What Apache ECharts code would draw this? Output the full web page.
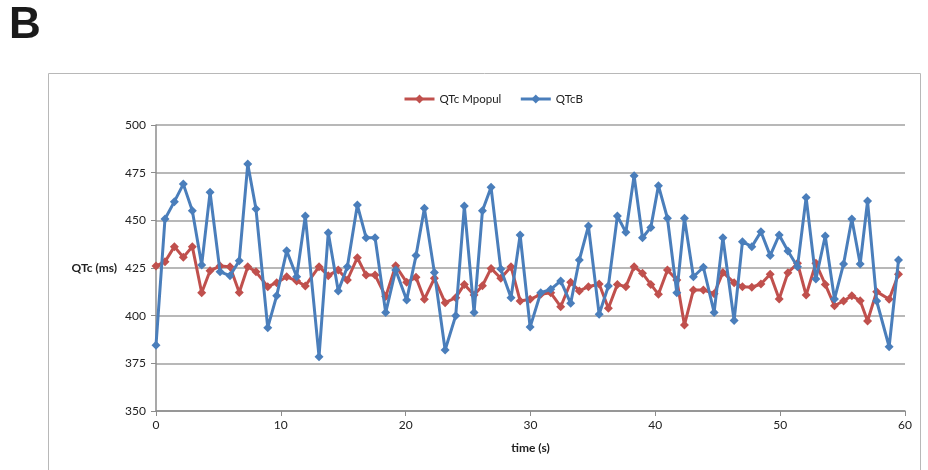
<!DOCTYPE html>
<html>
<head>
<meta charset="utf-8">
<script src="https://cdn.jsdelivr.net/npm/echarts@6/dist/echarts.min.js"></script>
<style>
    html, body { margin: 0; padding: 0; background: #fff; }
    #chart { width: 928px; height: 470px; }
</style>
</head>
<body>
<div id="chart"></div>
<script>
    // beat times (s)
    var times = [
        0, 0.72, 1.47, 2.19, 2.91, 3.66, 4.33, 5.13, 5.93, 6.67,
        7.35, 8.01, 8.95, 9.67, 10.47, 11.27, 11.96, 13.06, 13.8, 14.6,
        15.33, 16.13, 16.83, 17.55, 18.4, 19.2, 20.08, 20.83, 21.5, 22.3,
        23.16, 24.01, 24.7, 25.48, 26.15, 26.84, 27.62, 28.44, 29.17, 29.97,
        30.82, 31.62, 32.42, 33.22, 33.91, 34.64, 35.5, 36.24, 36.96, 37.64,
        38.3, 38.97, 39.64, 40.25, 40.97, 41.72, 42.33, 43.05, 43.85, 44.71,
        45.41, 46.31, 46.98, 47.73, 48.46, 49.2, 49.92, 50.62, 51.39, 52.08,
        52.86, 53.61, 54.35, 55.08, 55.74, 56.41, 57.0, 57.73, 58.73, 59.48
    ];
    var qtcMpopul = [
        426, 428.3, 436.2, 430.6, 436.2, 412, 423.6, 426, 425.7, 412.2,
        425.7, 423, 415.2, 417.3, 420.4, 418.2, 415.6, 425.7, 421, 424,
        418.7, 430.4, 421.3, 421.3, 410, 426.2, 417.5, 420.1, 408.6, 419.6,
        406.8, 409.4, 416.4, 410.8, 415.7, 424.8, 419.6, 425.7, 407.7, 408.6,
        411.2, 412, 404.7, 417.5, 413, 415.2, 416.6, 403.9, 416.4, 415.2,
        425.7, 422.2, 416.4, 411.2, 424, 418.7, 395.1, 413.5, 413.5, 411.5,
        422.7, 417.3, 415.2, 414.9, 416.6, 421.7, 408.7, 422.5, 427.5, 410.8,
        427.5, 416.4, 405.2, 407.7, 410.5, 407.8, 397.2, 412.6, 408.6, 421.7
    ];
    var qtcB = [
        384.5, 450.7, 459.8, 469, 455, 426.6, 464.7, 423, 421, 428.8,
        479.5, 455.9, 393.7, 410.5, 434, 420.4, 452.3, 378.5, 443.5, 413,
        425.7, 458, 440.9, 440.9, 401.6, 424, 408.2, 431.5, 456.3, 422.7,
        382, 400, 457.5, 401.6, 455, 467.3, 424.5, 409.4, 442.3, 394,
        412, 413.8, 418.2, 406.5, 429.2, 447, 400.7, 415.6, 452.3, 443.7,
        473.4, 440.9, 446.3, 468.2, 451.1, 412, 451.1, 420.4, 425.4, 401.7,
        440.9, 397.4, 438.8, 436.2, 444, 431.5, 442.3, 433.9, 425.7, 462,
        419.2, 441.8, 408.7, 427.1, 450.7, 427.1, 460.1, 407.7, 383.7, 429.2
    ];

    function pairs(vals) {
        return vals.map(function (v, i) { return [times[i], v]; });
    }

    var font = 'Lato, "Noto Sans", sans-serif';
    var chart = echarts.init(document.getElementById('chart'));
    chart.setOption({
        animation: false,
        textStyle: { fontFamily: font },
        graphic: [
            {
                type: 'rect',
                shape: { x: 48.5, y: 73.5, width: 872, height: 410 },
                style: { fill: 'none', stroke: '#b8b8b8', lineWidth: 1 }
            },
            {
                type: 'text',
                left: 9, top: 4,
                style: { text: 'B', font: 'bold 44px "Liberation Sans", Arial, sans-serif', fill: '#1a1a1a' }
            }
        ],
        legend: {
            top: 88,
            left: 398,
            itemWidth: 30,
            itemHeight: 11,
            itemGap: 18,
            lineStyle: { width: 3 },
            textStyle: { fontSize: 11.5, color: '#222', fontFamily: font },
            data: ['QTc Mpopul', 'QTcB']
        },
        grid: { left: 156, right: 23, top: 125, bottom: 59 },
        xAxis: {
            type: 'value',
            min: 0, max: 60, interval: 10,
            name: 'time (s)',
            nameLocation: 'middle',
            nameGap: 31,
            nameTextStyle: { fontWeight: 'bold', fontSize: 12, color: '#222' },
            axisLine: { lineStyle: { color: '#8c8c8c', width: 1.5 } },
            axisTick: { show: true, length: 5, lineStyle: { color: '#8c8c8c' } },
            axisLabel: { fontSize: 12, color: '#222', margin: 8 },
            splitLine: { show: false }
        },
        yAxis: {
            type: 'value',
            min: 350, max: 500, interval: 25,
            name: 'QTc (ms)',
            nameLocation: 'middle',
            nameRotate: 0,
            nameGap: 39,
            nameTextStyle: { fontWeight: 'bold', fontSize: 12, color: '#222', align: 'right' },
            axisLine: { show: true, lineStyle: { color: '#8c8c8c', width: 1.5 } },
            axisTick: { show: true, length: 5, lineStyle: { color: '#8c8c8c' } },
            axisLabel: { fontSize: 12, color: '#222', margin: 10 },
            splitLine: { lineStyle: { color: '#a0a0a0', width: 1.5 } }
        },
        series: [
            {
                name: 'QTc Mpopul',
                type: 'line',
                data: pairs(qtcMpopul),
                symbol: 'diamond',
                symbolSize: 9,
                lineStyle: { color: '#c0504d', width: 3 },
                itemStyle: { color: '#c0504d' },
                z: 2
            },
            {
                name: 'QTcB',
                type: 'line',
                data: pairs(qtcB),
                symbol: 'diamond',
                symbolSize: 9,
                lineStyle: { color: '#4a7ebb', width: 3 },
                itemStyle: { color: '#4a7ebb' },
                z: 3
            }
        ]
    });
</script>
</body>
</html>
